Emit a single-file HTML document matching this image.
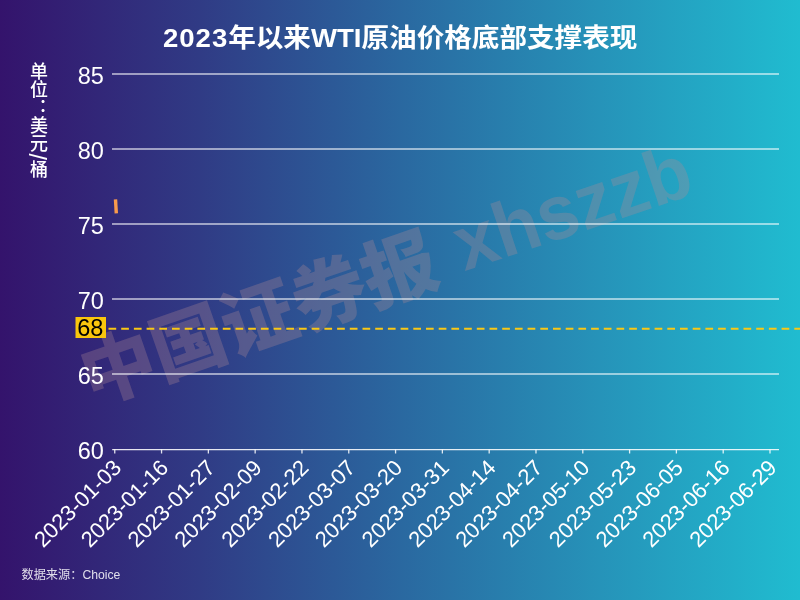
<!DOCTYPE html>
<html lang="zh-CN">
<head>
<meta charset="utf-8">
<title>2023年以来WTI原油价格底部支撑表现</title>
<style>
html,body{margin:0;padding:0;}
body{width:800px;height:600px;overflow:hidden;background:#2a5a9e;font-family:"Liberation Sans", "Noto Sans CJK SC", sans-serif;}
#chart{position:relative;width:800px;height:600px;overflow:hidden;
 background:linear-gradient(90deg,rgb(52,19,108) 0%,rgb(48,59,133) 25%,rgb(42,104,160) 50%,rgb(38,147,185) 75%,rgb(32,188,208) 100%);}
svg{position:absolute;left:0;top:0;}
svg text{font-family:"Liberation Sans", "Noto Sans CJK SC", sans-serif;}
</style>
</head>
<body>
<div id="chart">
<svg width="800" height="600" viewBox="0 0 800 600">
<text transform="translate(91.7,405.1) rotate(-19.2)" font-size="74.5" font-weight="900" fill="#b48c96" fill-opacity="0.30">中国证券报</text>
<text transform="translate(464.5,271.3) rotate(-18.6) scale(0.955,1)" font-size="77" font-weight="bold" fill="#b48c96" fill-opacity="0.30">xhszzb</text>
<line x1="112" y1="74.0" x2="779" y2="74.0" stroke="#ffffff" stroke-opacity="0.72" stroke-width="1.55"/>
<line x1="112" y1="149.0" x2="779" y2="149.0" stroke="#ffffff" stroke-opacity="0.72" stroke-width="1.55"/>
<line x1="112" y1="224.0" x2="779" y2="224.0" stroke="#ffffff" stroke-opacity="0.72" stroke-width="1.55"/>
<line x1="112" y1="299.0" x2="779" y2="299.0" stroke="#ffffff" stroke-opacity="0.72" stroke-width="1.55"/>
<line x1="112" y1="374.0" x2="779" y2="374.0" stroke="#ffffff" stroke-opacity="0.72" stroke-width="1.55"/>
<line x1="112.2" y1="449.6" x2="779" y2="449.6" stroke="#ffffff" stroke-opacity="0.88" stroke-width="1.4"/>
<line x1="114.75" y1="449.5" x2="114.75" y2="453.5" stroke="#ffffff" stroke-opacity="0.85" stroke-width="1.3"/>
<line x1="161.55" y1="449.5" x2="161.55" y2="453.5" stroke="#ffffff" stroke-opacity="0.85" stroke-width="1.3"/>
<line x1="208.36" y1="449.5" x2="208.36" y2="453.5" stroke="#ffffff" stroke-opacity="0.85" stroke-width="1.3"/>
<line x1="255.16" y1="449.5" x2="255.16" y2="453.5" stroke="#ffffff" stroke-opacity="0.85" stroke-width="1.3"/>
<line x1="301.96" y1="449.5" x2="301.96" y2="453.5" stroke="#ffffff" stroke-opacity="0.85" stroke-width="1.3"/>
<line x1="348.77" y1="449.5" x2="348.77" y2="453.5" stroke="#ffffff" stroke-opacity="0.85" stroke-width="1.3"/>
<line x1="395.57" y1="449.5" x2="395.57" y2="453.5" stroke="#ffffff" stroke-opacity="0.85" stroke-width="1.3"/>
<line x1="442.38" y1="449.5" x2="442.38" y2="453.5" stroke="#ffffff" stroke-opacity="0.85" stroke-width="1.3"/>
<line x1="489.18" y1="449.5" x2="489.18" y2="453.5" stroke="#ffffff" stroke-opacity="0.85" stroke-width="1.3"/>
<line x1="535.98" y1="449.5" x2="535.98" y2="453.5" stroke="#ffffff" stroke-opacity="0.85" stroke-width="1.3"/>
<line x1="582.79" y1="449.5" x2="582.79" y2="453.5" stroke="#ffffff" stroke-opacity="0.85" stroke-width="1.3"/>
<line x1="629.59" y1="449.5" x2="629.59" y2="453.5" stroke="#ffffff" stroke-opacity="0.85" stroke-width="1.3"/>
<line x1="676.39" y1="449.5" x2="676.39" y2="453.5" stroke="#ffffff" stroke-opacity="0.85" stroke-width="1.3"/>
<line x1="723.20" y1="449.5" x2="723.20" y2="453.5" stroke="#ffffff" stroke-opacity="0.85" stroke-width="1.3"/>
<line x1="770.00" y1="449.5" x2="770.00" y2="453.5" stroke="#ffffff" stroke-opacity="0.85" stroke-width="1.3"/>
<text x="103.9" y="83.7" text-anchor="end" font-size="23.5" fill="#ffffff">85</text>
<text x="103.9" y="158.7" text-anchor="end" font-size="23.5" fill="#ffffff">80</text>
<text x="103.9" y="233.7" text-anchor="end" font-size="23.5" fill="#ffffff">75</text>
<text x="103.9" y="308.7" text-anchor="end" font-size="23.5" fill="#ffffff">70</text>
<text x="103.9" y="383.7" text-anchor="end" font-size="23.5" fill="#ffffff">65</text>
<text x="103.9" y="458.7" text-anchor="end" font-size="23.5" fill="#ffffff">60</text>
<rect x="75.5" y="317" width="30.5" height="21" fill="#f9c60d"/>
<text x="103.4" y="335.5" text-anchor="end" font-size="23.5" fill="#000000">68</text>
<line x1="108.5" y1="328.7" x2="800" y2="328.7" stroke="#fac814" stroke-width="2.1" stroke-dasharray="7.7 5"/>
<line x1="115.5" y1="199.3" x2="116.3" y2="213.4" stroke="#f99a4c" stroke-width="3.4"/>
<text transform="translate(122.75,469.00) rotate(-45)" text-anchor="end" font-size="22" fill="#ffffff">2023-01-03</text>
<text transform="translate(169.55,469.00) rotate(-45)" text-anchor="end" font-size="22" fill="#ffffff">2023-01-16</text>
<text transform="translate(216.36,469.00) rotate(-45)" text-anchor="end" font-size="22" fill="#ffffff">2023-01-27</text>
<text transform="translate(263.16,469.00) rotate(-45)" text-anchor="end" font-size="22" fill="#ffffff">2023-02-09</text>
<text transform="translate(309.96,469.00) rotate(-45)" text-anchor="end" font-size="22" fill="#ffffff">2023-02-22</text>
<text transform="translate(356.77,469.00) rotate(-45)" text-anchor="end" font-size="22" fill="#ffffff">2023-03-07</text>
<text transform="translate(403.57,469.00) rotate(-45)" text-anchor="end" font-size="22" fill="#ffffff">2023-03-20</text>
<text transform="translate(450.38,469.00) rotate(-45)" text-anchor="end" font-size="22" fill="#ffffff">2023-03-31</text>
<text transform="translate(497.18,469.00) rotate(-45)" text-anchor="end" font-size="22" fill="#ffffff">2023-04-14</text>
<text transform="translate(543.98,469.00) rotate(-45)" text-anchor="end" font-size="22" fill="#ffffff">2023-04-27</text>
<text transform="translate(590.79,469.00) rotate(-45)" text-anchor="end" font-size="22" fill="#ffffff">2023-05-10</text>
<text transform="translate(637.59,469.00) rotate(-45)" text-anchor="end" font-size="22" fill="#ffffff">2023-05-23</text>
<text transform="translate(684.39,469.00) rotate(-45)" text-anchor="end" font-size="22" fill="#ffffff">2023-06-05</text>
<text transform="translate(731.20,469.00) rotate(-45)" text-anchor="end" font-size="22" fill="#ffffff">2023-06-16</text>
<text transform="translate(778.00,469.00) rotate(-45)" text-anchor="end" font-size="22" fill="#ffffff">2023-06-29</text>
<text transform="translate(163,46.6) scale(1.0615,1)" font-size="26" font-weight="bold" fill="#ffffff"><tspan letter-spacing="0.9">2023</tspan>年以来WTI原油价格底部支撑表现</text>
<text x="37" y="62.3" font-size="18" font-weight="500" fill="#ffffff" style="writing-mode:vertical-rl;">单位：美元<tspan font-size="23" dy="1.3">/</tspan><tspan dy="0.3">桶</tspan></text>
<text x="21.5" y="579" font-size="12.2" fill="#ffffff" fill-opacity="0.85">数据来源：Choice</text>
</svg>
</div>
</body>
</html>
